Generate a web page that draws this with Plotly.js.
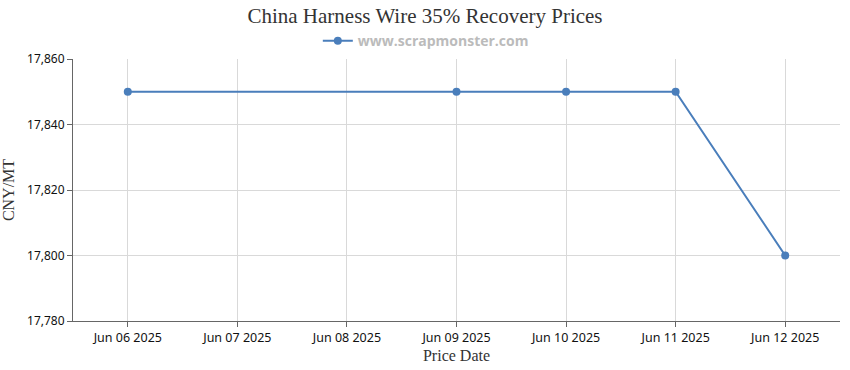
<!DOCTYPE html>
<html>
<head>
<meta charset="utf-8">
<script src="https://cdn.plot.ly/plotly-3.0.1.min.js"></script>
<style>html,body{margin:0;padding:0;background:#fff;}#chart{width:850px;height:370px;}</style>
</head>
<body>
<div id="chart"></div>
<script>
const dates = ['2025-06-06', '2025-06-09', '2025-06-10', '2025-06-11', '2025-06-12'];
const prices = [17850, 17850, 17850, 17850, 17800];
const seriesName = 'www.scrapmonster.com';
const yTicks = [17780, 17800, 17820, 17840, 17860];

const trace = {
  x: dates, y: prices, type: 'scatter', mode: 'lines+markers', name: seriesName,
  line: {color: '#4A7EBB', width: 2},
  marker: {color: '#4A7EBB', size: 8},
  showlegend: true
};

const layout = {
  width: 850, height: 370,
  margin: {l: 73, r: 10, t: 59, b: 49},
  paper_bgcolor: '#fff', plot_bgcolor: '#fff',
  title: {text: 'China Harness Wire 35% Recovery Prices', x: 0.5, xanchor: 'center', y: 0.958, yanchor: 'middle',
          font: {family: 'Liberation Serif, Times New Roman, serif', size: 21, color: '#333'}},
  showlegend: true,
  legend: {orientation: 'h', x: 0.46, xanchor: 'center', y: 1.068, yanchor: 'middle',
           font: {family: 'Open Sans, sans-serif', size: 14, color: '#bbb', weight: 'bold'},
           itemwidth: 30},
  xaxis: {
    type: 'date',
    range: ['2025-06-05 12:00', '2025-06-12 12:00'],
    dtick: 86400000, tick0: '2025-06-06',
    tickformat: '%b %d %Y',
    showgrid: true, gridcolor: '#d9d9d9', gridwidth: 1,
    showline: true, linecolor: '#666', linewidth: 1,
    ticks: 'outside', ticklen: 5, tickcolor: '#666',
    tickfont: {family: 'Noto Sans, sans-serif', size: 12.5, color: '#111'},
    zeroline: false,
    title: {text: 'Price Date', standoff: 4, font: {family: 'Liberation Serif, serif', size: 16, color: '#333'}}
  },
  yaxis: {
    range: [17780, 17860],
    tickvals: yTicks,
    tickformat: ',d',
    showgrid: true, gridcolor: '#d9d9d9', gridwidth: 1,
    showline: true, linecolor: '#666', linewidth: 1,
    ticks: 'outside', ticklen: 5, tickcolor: '#666',
    tickfont: {family: 'Noto Sans, sans-serif', size: 12, color: '#111'},
    zeroline: false,
    title: {text: 'CNY/MT', standoff: 8, font: {family: 'Liberation Serif, serif', size: 16, color: '#333'}}
  }
};

Plotly.newPlot('chart', [trace], layout, {displayModeBar: false, responsive: false});
</script>
</body>
</html>
